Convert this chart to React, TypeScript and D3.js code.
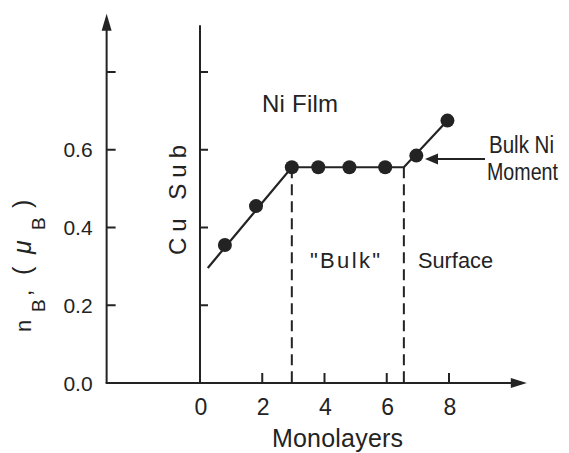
import React from "react";
import * as d3 from "d3";

// Magnetic moment per Ni atom versus film thickness
const monolayers = [0.8, 1.8, 2.95, 3.8, 4.8, 5.95, 6.95, 7.95];
const moment = [0.355, 0.455, 0.555, 0.555, 0.555, 0.555, 0.585, 0.675];

// Guide line through the measurements
const trendX = [0.25, 2.95, 6.55, 7.95];
const trendY = [0.296, 0.555, 0.555, 0.675];

// Region boundaries (monolayers)
const boundaries = [2.95, 6.55];

const xTicks = [2, 4, 6, 8];
const xTickLabels = ["0", "2", "4", "6", "8"];
const xLabelValues = [0, 2, 4, 6, 8];
const yTicks = [0.2, 0.4, 0.6, 0.8];
const yTickLabels = ["0.0", "0.2", "0.4", "0.6"];
const yLabelValues = [0, 0.2, 0.4, 0.6];

const W = 569;
const H = 453;
const INK = "#232323";
const FONT = "'Liberation Sans', Arial, sans-serif";

export default function App() {
  const x = d3.scaleLinear().domain([0, 8]).range([200, 449]);
  const y = d3.scaleLinear().domain([0, 0.8]).range([383, 72]);

  const xLeft = x(-3);
  const xEnd = x(10.5);
  const yTop = y(0.95);
  const y0 = y(0);

  const line = d3
    .line<number>()
    .x((_, i) => x(trendX[i]))
    .y((d) => y(d));

  const pts = monolayers.map((m, i) => ({ m, v: moment[i] }));

  return (
    <svg
      width={W}
      height={H}
      style={{ position: "absolute", left: 0, top: 0, background: "#fff" }}
      fontFamily={FONT}
      fill={INK}
    >
      {/* left axis with arrow */}
      <line x1={xLeft} y1={y0} x2={xLeft} y2={yTop + 14} stroke={INK} strokeWidth={2} />
      <path d={`M${xLeft - 5},${yTop + 17} L${xLeft},${yTop} L${xLeft + 5},${yTop + 17} Z`} fill={INK} />
      {yTicks.map((t) => (
        <line key={"lt" + t} x1={xLeft} x2={xLeft + 9} y1={y(t)} y2={y(t)} stroke={INK} strokeWidth={2} />
      ))}
      {yLabelValues.map((v, i) => (
        <text key={"yl" + v} x={xLeft - 14} y={y(v) + 7.5} fontSize={21} textAnchor="end">
          {yTickLabels[i]}
        </text>
      ))}

      {/* substrate interface axis */}
      <line x1={x(0)} y1={y0} x2={x(0)} y2={y(0.92)} stroke={INK} strokeWidth={2} />
      {yTicks.map((t) => (
        <line key={"st" + t} x1={x(0)} x2={x(0) + 8} y1={y(t)} y2={y(t)} stroke={INK} strokeWidth={2} />
      ))}

      {/* bottom axis with arrow */}
      <line x1={xLeft - 1} y1={y0} x2={xEnd - 14} y2={y0} stroke={INK} strokeWidth={2} />
      <path d={`M${xEnd - 16},${y0 - 5} L${xEnd},${y0} L${xEnd - 16},${y0 + 5} Z`} fill={INK} />
      {xTicks.map((t) => (
        <line key={"xt" + t} x1={x(t)} x2={x(t)} y1={y0} y2={y0 - 10} stroke={INK} strokeWidth={2} />
      ))}
      {xLabelValues.map((v, i) => (
        <text key={"xl" + v} x={x(v) + 1} y={415} fontSize={23} textAnchor="middle">
          {xTickLabels[i]}
        </text>
      ))}
      <text x={272} y={447} fontSize={25} textLength={131} lengthAdjust="spacing">
        Monolayers
      </text>

      {/* region boundaries */}
      {boundaries.map((b) => (
        <line
          key={"b" + b}
          x1={x(b)}
          x2={x(b)}
          y1={y(0.555)}
          y2={y0}
          stroke={INK}
          strokeWidth={2}
          strokeDasharray="11,6"
        />
      ))}

      {/* guide line and data */}
      <path d={line(trendY) || ""} fill="none" stroke={INK} strokeWidth={2.2} />
      {pts.map((p, i) => (
        <circle key={"p" + i} cx={x(p.m)} cy={y(p.v)} r={7} fill={INK} />
      ))}

      {/* annotations */}
      <text x={262} y={112} fontSize={24} textLength={76} lengthAdjust="spacing">Ni Film</text>
      <text x={310} y={268} fontSize={22} textLength={70} lengthAdjust="spacing">"Bulk"</text>
      <text x={418} y={268} fontSize={22} textLength={75} lengthAdjust="spacingAndGlyphs">Surface</text>
      <text x={489} y={153} fontSize={23} textLength={65} lengthAdjust="spacingAndGlyphs">Bulk Ni</text>
      <text x={487} y={180} fontSize={23} textLength={71} lengthAdjust="spacingAndGlyphs">Moment</text>
      <line x1={485} y1={159} x2={436} y2={159} stroke={INK} strokeWidth={2} />
      <path d={`M${438},${153.5} L${425},${159} L${438},${164.5} Z`} fill={INK} />

      <text transform={`translate(186,255) rotate(-90)`} fontSize={24} textLength={110} lengthAdjust="spacing">
        Cu Sub
      </text>

      <text transform={`translate(31,332) rotate(-90)`} fontSize={22}>
        <tspan x={0}>n</tspan>
        <tspan x={20} dy={14} fontSize={19}>B</tspan>
        <tspan x={36} dy={-14}>,</tspan>
        <tspan x={57} fontSize={25}>(</tspan>
        <tspan x={78} fontSize={25} fontStyle="italic">μ</tspan>
        <tspan x={102} dy={14} fontSize={19}>B</tspan>
        <tspan x={124} dy={-14} fontSize={25}>)</tspan>
      </text>
    </svg>
  );
}
